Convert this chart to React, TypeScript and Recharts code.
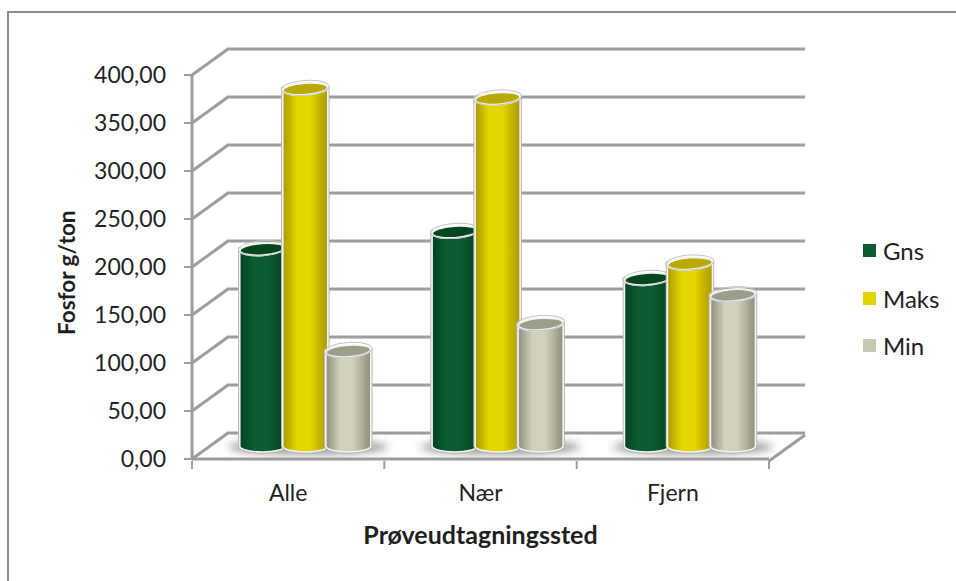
import { BarChart, Bar, XAxis, YAxis, CartesianGrid, Legend } from 'recharts';

const categories = ['Alle', 'Nær', 'Fjern'];
const gnsValues = [205, 223, 174];
const maksValues = [372, 362, 190];
const minValues = [99, 127, 157];
const yTicks = [0, 50, 100, 150, 200, 250, 300, 350, 400];

const data = categories.map((name, i) => ({
  name,
  Gns: gnsValues[i],
  Maks: maksValues[i],
  Min: minValues[i],
}));

const FONT = 'Lato, "Open Sans", sans-serif';
const AXIS_GREY = '#9c9c9c';
const TEXT = '#1f1f1f';

// how far the back wall sits behind the front plane
const WALL_DX = 36;
const WALL_DY = 26;
// bars stand halfway into the floor
const BAR_DX = 17;
const BAR_DY = 13;

const palette = {
  Gns: { id: 'gns', edge: '#024225', mid: '#0b5c32', top: '#03461f', swatch: '#0b5c32' },
  Maks: { id: 'maks', edge: '#a89a00', mid: '#e6d600', top: '#b8a800', swatch: '#e3d300' },
  Min: { id: 'min', edge: '#8e8e7c', mid: '#d2d1bb', top: '#9c9d8a', swatch: '#c9c8b2' },
};

function BodyGradient({ id, edge, mid }: { id: string; edge: string; mid: string }) {
  return (
    <linearGradient id={id} x1="0" y1="0" x2="1" y2="0">
      <stop offset="0" stopColor={edge} />
      <stop offset="0.32" stopColor={mid} />
      <stop offset="0.6" stopColor={mid} />
      <stop offset="1" stopColor={edge} />
    </linearGradient>
  );
}

// cylinder pushed back onto the floor
function Cylinder(props: any) {
  const { x, y, width, height, colors } = props;
  const left = x + BAR_DX;
  const w = width;
  const top = y - BAR_DY;
  const bottom = y + height - BAR_DY;
  const rx = w / 2;
  const ry = 6;
  const right = left + w;
  const cx = left + rx;
  const body = `M${left},${top} L${left},${bottom} A${rx},${ry} 0 0 0 ${right},${bottom} L${right},${top} Z`;
  return (
    <g>
      <path d={body} fill="none" stroke="#b5b5b5" strokeWidth={3.5} />
      <path d={body} fill={`url(#${colors.id})`} stroke="#f4f4f4" strokeWidth={1.6} />
      <ellipse
        cx={cx}
        cy={top}
        rx={rx}
        ry={ry}
        transform={`rotate(-4 ${cx} ${top})`}
        fill={colors.top}
        stroke="#f4f4f4"
        strokeWidth={2}
      />
      <ellipse
        cx={cx}
        cy={top - 1}
        rx={rx + 1.5}
        ry={ry + 1.5}
        transform={`rotate(-4 ${cx} ${top})`}
        fill="none"
        stroke="#c4c4c4"
        strokeWidth={1}
      />
    </g>
  );
}

// soft shadow under a whole group of bars
function FloorShadow(props: any) {
  const { x, y, width, height } = props;
  const floor = y + height - BAR_DY;
  return (
    <ellipse
      cx={x + width / 2 + BAR_DX + 3}
      cy={floor + 1}
      rx={width / 2}
      ry={7}
      fill="#6e6e6e"
      opacity={0.75}
      filter="url(#floorBlur)"
    />
  );
}

// grid line runs from the front axis up the side wall and along the back
function WallLine(props: any) {
  const { x1, x2, y1 } = props;
  const backY = y1 - WALL_DY;
  const pts = `${x1},${y1} ${x1 + WALL_DX},${backY} ${x2 + WALL_DX},${backY}`;
  return <polyline points={pts} fill="none" stroke={AXIS_GREY} strokeWidth={3} />;
}

// category label plus the tick marks on the group edges
function CategoryTick(props: any) {
  const { x, y, width, visibleTicksCount, index, payload } = props;
  const band = width / visibleTicksCount;
  const edge = x - band / 2;
  const axisY = y - 8;
  return (
    <g>
      <line x1={edge} x2={edge} y1={axisY} y2={axisY + 8} stroke={AXIS_GREY} strokeWidth={2} />
      {index === visibleTicksCount - 1 && (
        <>
          <line x1={edge + band} x2={edge + band} y1={axisY} y2={axisY + 8} stroke={AXIS_GREY} strokeWidth={2} />
          {/* front edge of the floor coming back from the wall */}
          <line
            x1={edge + band}
            y1={axisY}
            x2={edge + band + WALL_DX}
            y2={axisY - WALL_DY}
            stroke={AXIS_GREY}
            strokeWidth={3}
          />
        </>
      )}
      <text x={x} y={axisY + 40} textAnchor="middle" fill={TEXT} fontSize={23} fontFamily={FONT}>
        {payload.value}
      </text>
    </g>
  );
}

function LegendList({ payload }: any) {
  const items = payload.filter((item: any) => item.type !== 'none');
  return (
    <div style={{ fontFamily: FONT, fontSize: 24, color: TEXT }}>
      {items.map((item: any) => (
        <div key={item.value} style={{ display: 'flex', alignItems: 'center', height: 47.5 }}>
          <span
            style={{
              width: 13,
              height: 13,
              marginRight: 7,
              background: palette[item.value as keyof typeof palette].swatch,
            }}
          />
          {item.value}
        </div>
      ))}
    </div>
  );
}

export default function App() {
  const series = ['Gns', 'Maks', 'Min'] as const;
  return (
    <div style={{ position: 'absolute', left: 0, top: 0, width: 956, height: 581, background: '#fff' }}>
      <div
        style={{
          position: 'absolute',
          left: 7,
          top: 11,
          width: 949,
          height: 570,
          borderTop: '2px solid #8c8c8c',
          borderLeft: '2px solid #8c8c8c',
          boxSizing: 'border-box',
        }}
      />
      <div style={{ position: 'absolute', left: 0, top: 0 }}>
        <BarChart
          width={956}
          height={581}
          data={data}
          margin={{ top: 75, right: 97, bottom: 32, left: 50 }}
          barCategoryGap="16%"
          barGap={-2}
          style={{ fontFamily: FONT }}
        >
          <defs>
            {series.map((s) => (
              <BodyGradient key={s} id={palette[s].id} edge={palette[s].edge} mid={palette[s].mid} />
            ))}
            <filter id="floorBlur" x="-30%" y="-150%" width="160%" height="400%">
              <feGaussianBlur stdDeviation="4" />
            </filter>
          </defs>
          <CartesianGrid vertical={false} horizontal={(p: any) => <WallLine key={p.key ?? p.y1} {...p} />} />
          <YAxis
            domain={[0, 400]}
            ticks={yTicks}
            interval={0}
            width={142}
            tickSize={8}
            tickMargin={18}
            tickFormatter={(v: number) => `${v},00`}
            tick={{ fill: TEXT, fontSize: 23, fontFamily: FONT }}
            axisLine={{ stroke: AXIS_GREY, strokeWidth: 3 }}
            tickLine={{ stroke: AXIS_GREY, strokeWidth: 2 }}
            label={{
              value: 'Fosfor g/ton',
              angle: -90,
              position: 'insideLeft',
              offset: 17,
              dy: 68,
              style: { fill: TEXT, fontSize: 22.5, fontWeight: 700, fontFamily: FONT },
            }}
          />
          <XAxis
            dataKey="name"
            height={90}
            interval={0}
            tickLine={false}
            tickSize={8}
            axisLine={{ stroke: AXIS_GREY, strokeWidth: 3 }}
            tick={<CategoryTick />}
            label={{
              value: 'Prøveudtagningssted',
              position: 'insideBottom',
              offset: 5,
              style: { fill: TEXT, fontSize: 25, fontWeight: 700, fontFamily: FONT },
            }}
          />
          <XAxis xAxisId="floor" dataKey="name" hide />
          <Bar
            xAxisId="floor"
            dataKey="Maks"
            legendType="none"
            barSize={160}
            isAnimationActive={false}
            shape={<FloorShadow />}
          />
          {series.map((s) => (
            <Bar
              key={s}
              dataKey={s}
              fill={palette[s].swatch}
              isAnimationActive={false}
              shape={<Cylinder colors={palette[s]} />}
            />
          ))}
          <Legend
            layout="vertical"
            align="right"
            verticalAlign="top"
            content={<LegendList />}
            wrapperStyle={{ left: 863, top: 227, width: 90 }}
          />
        </BarChart>
      </div>
    </div>
  );
}
